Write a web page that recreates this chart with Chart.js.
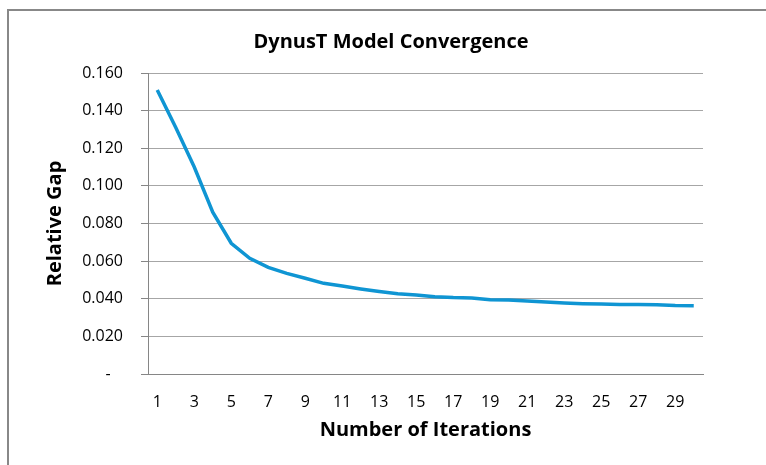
<!DOCTYPE html>
<html>
<head>
<meta charset="utf-8">
<script src="https://cdn.jsdelivr.net/npm/chart.js@4"></script>
<style>
  html, body { margin: 0; padding: 0; background: #fff; overflow: hidden; }
  #wrap { position: relative; width: 766px; height: 465px; }
  #frame { position: absolute; left: 7px; top: 9px; width: 800px; height: 500px; border: 2px solid #888; box-sizing: border-box; }
  canvas { position: absolute; left: 0; top: 0; }
</style>
</head>
<body>
<div id="wrap">
  <div id="frame"></div>
  <canvas id="chart" width="766" height="465"></canvas>
</div>
<script>
// iterations 1..30
var iterations = [1, 2, 3, 4, 5, 6, 7, 8, 9, 10, 11, 12, 13, 14, 15,
                  16, 17, 18, 19, 20, 21, 22, 23, 24, 25, 26, 27, 28, 29, 30];
// relative gap
var relativeGap = [0.151, 0.131, 0.110, 0.086, 0.0695, 0.0615, 0.0567, 0.0535, 0.0509, 0.0482,
                   0.0468, 0.0452, 0.0438, 0.0426, 0.0420, 0.0411, 0.0406, 0.0404, 0.0395, 0.0394,
                   0.0388, 0.0383, 0.0378, 0.0374, 0.0372, 0.0369, 0.0369, 0.0368, 0.0364, 0.0363];
var yTicks = [0, 0.02, 0.04, 0.06, 0.08, 0.10, 0.12, 0.14, 0.16];

var font = "'Open Sans', 'Liberation Sans', sans-serif";
var axisGray = '#868686';
var gridGray = '#a6a6a6';

new Chart(document.getElementById('chart'), {
    type: 'line',
    data: {
        labels: iterations,
        datasets: [{
            label: 'Relative Gap',
            data: relativeGap,
            borderColor: '#0f95d3',
            borderWidth: 3.5,
            pointRadius: 0,
            tension: 0,
            fill: false
        }]
    },
    options: {
        responsive: false,
        animation: false,
        devicePixelRatio: 1,
        layout: { padding: { left: 16, right: 0, top: 0, bottom: 0 } },
        plugins: {
            legend: { display: false },
            tooltip: { enabled: false },
            title: {
                display: true,
                text: 'DynusT Model Convergence',
                color: '#000',
                font: { family: font, size: 20, weight: 'bold' },
                padding: { top: 30, bottom: 19 }
            }
        },
        scales: {
            x: {
                type: 'category',
                offset: true,
                grid: { display: false, drawTicks: false },
                border: { display: true, color: axisGray, width: 1 },
                ticks: {
                    autoSkip: false,
                    maxRotation: 0,
                    padding: 19,
                    color: '#000',
                    font: { family: font, size: 16 },
                    callback: function(value, index) {
                        return index % 2 === 0 ? String(iterations[index]) : '';
                    }
                },
                title: {
                    display: true,
                    text: 'Number of Iterations',
                    color: '#000',
                    font: { family: font, size: 20, weight: 'bold' },
                    padding: { top: 0, bottom: 23 }
                },
                afterFit: function(scale) { scale.height = 91; }
            },
            y: {
                min: 0,
                max: 0.16,
                afterBuildTicks: function(scale) {
                    scale.ticks = yTicks.map(function(v) { return { value: v }; });
                },
                grid: { color: gridGray, lineWidth: 1, tickLength: 7, drawTicks: true, tickColor: axisGray },
                border: { display: true, color: axisGray, width: 1 },
                ticks: {
                    padding: 18,
                    color: '#000',
                    font: { family: font, size: 16 },
                    callback: function(value) {
                        return value === 0 ? '-   ' : value.toFixed(3);
                    }
                },
                title: {
                    display: true,
                    text: 'Relative Gap',
                    color: '#000',
                    font: { family: font, size: 20, weight: 'bold' },
                    padding: { top: 27, bottom: 0 }
                },
                afterFit: function(scale) { scale.width = 132; }
            },
            y2: {
                position: 'right',
                display: true,
                grid: { display: false, drawTicks: false },
                border: { display: false },
                ticks: { display: false },
                afterFit: function(scale) { scale.width = 63; }
            }
        }
    }
});
</script>
</body>
</html>
